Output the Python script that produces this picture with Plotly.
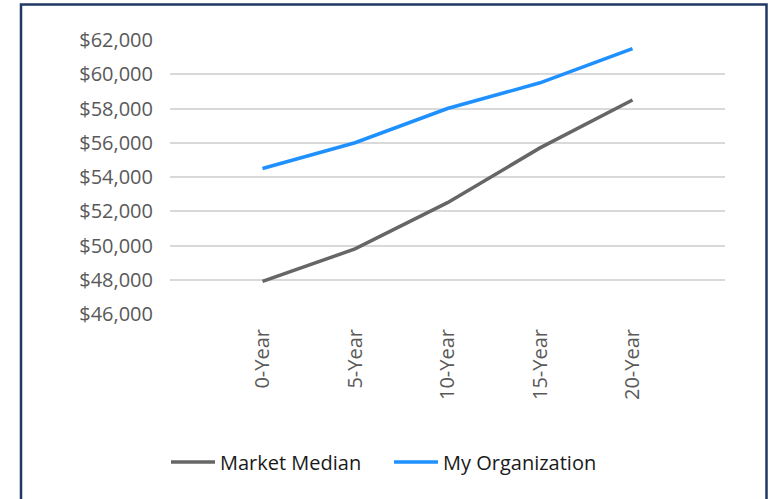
import plotly.graph_objects as go

categories = ["0-Year", "5-Year", "10-Year", "15-Year", "20-Year"]
market_median = [47900, 49800, 52500, 55700, 58500]
my_organization = [54500, 56000, 58000, 59500, 61500]
y_ticks = [46000, 48000, 50000, 52000, 54000, 56000, 58000, 60000, 62000]

W, H = 770, 499
L, T = 170, 40
pw, ph = 555, 274
R, B = W - L - pw, H - T - ph

def px_x(x):
    return (x - L) / pw

def px_y(y):
    return (T + ph - y) / ph

fig = go.Figure()
fig.add_trace(go.Scatter(x=categories, y=market_median, name="Market Median",
                         mode="lines", line=dict(color="#666666", width=3.5)))
fig.add_trace(go.Scatter(x=categories, y=my_organization, name="My Organization",
                         mode="lines", line=dict(color="#1E90FF", width=3.5)))

fig.update_layout(
    width=W, height=H,
    margin=dict(l=L, r=R, t=T, b=B),
    paper_bgcolor="white", plot_bgcolor="white",
    font=dict(family="Open Sans", color="#595959"),
    showlegend=True,
    legend=dict(orientation="h", x=px_x(166), y=px_y(462), xanchor="left", yanchor="middle",
                font=dict(size=20, color="#1a1a1a"), itemwidth=44, entrywidth=164,
                tracegroupgap=0),
    shapes=[dict(type="rect", xref="paper", yref="paper",
                 x0=px_x(21), x1=px_x(766.5), y0=px_y(560), y1=px_y(4.5),
                 line=dict(color="#1F3864", width=2.5), layer="above")],
)
fig.update_xaxes(type="category", range=[-1, 5], showgrid=False, showline=False,
                 tickangle=-90, tickfont=dict(size=20, color="#595959"),
                 ticklabelstandoff=10)
fig.update_yaxes(range=[46000, 62000], tickvals=y_ticks, tickformat="$,.0f",
                 showgrid=True, gridcolor="#D9D9D9", gridwidth=2, zeroline=False,
                 showline=False, tickfont=dict(size=20, color="#595959"),
                 ticklabelstandoff=16)

fig.write_html("out.html", config={"displayModeBar": False},
               post_script="document.body.style.margin='0';")
